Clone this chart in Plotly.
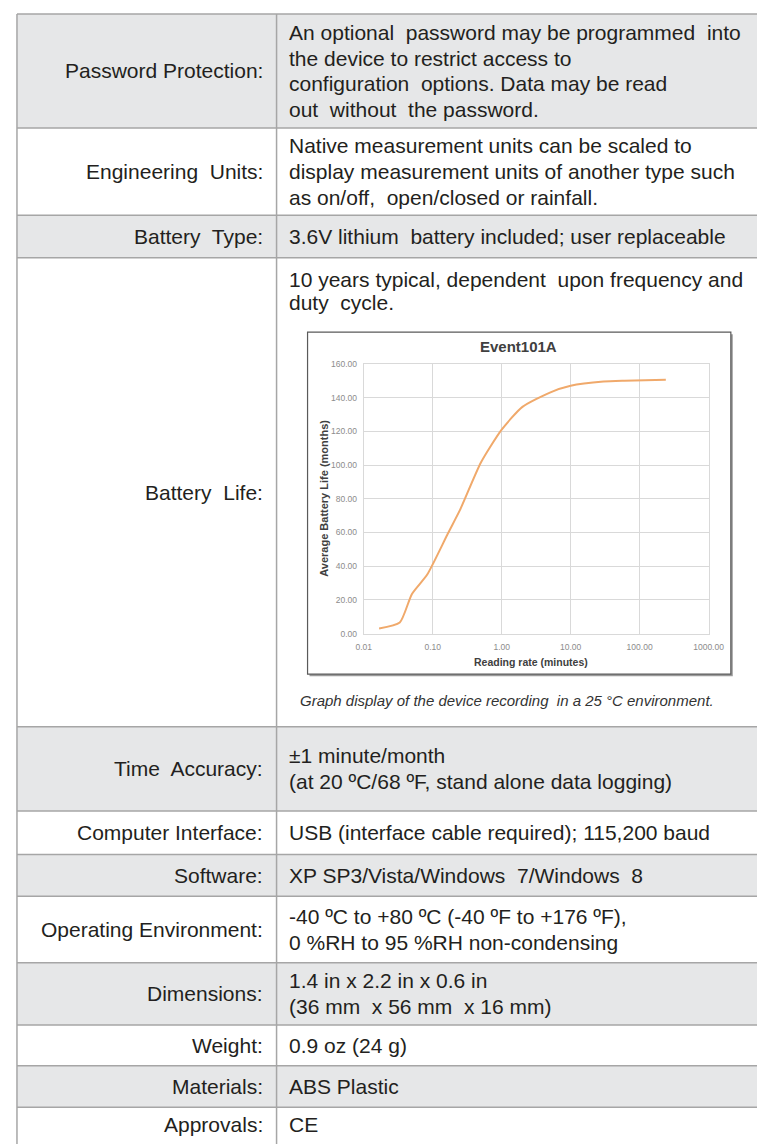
import plotly.graph_objects as go

# ---------------- data ----------------
row_labels = [
    "Password Protection:", "Engineering  Units:", "Battery  Type:", "Battery  Life:",
    "Time  Accuracy:", "Computer Interface:", "Software:", "Operating Environment:",
    "Dimensions:", "Weight:", "Materials:", "Approvals:",
]
row_contents = [
    ["An optional  password may be programmed  into", "the device to restrict access to",
     "configuration  options. Data may be read", "out  without  the password."],
    ["Native measurement units can be scaled to", "display measurement units of another type such",
     "as on/off,  open/closed or rainfall."],
    ["3.6V lithium  battery included; user replaceable"],
    ["10 years typical, dependent  upon frequency and", "duty  cycle."],
    ["±1 minute/month", "(at 20 ºC/68 ºF, stand alone data logging)"],
    ["USB (interface cable required); 115,200 baud"],
    ["XP SP3/Vista/Windows  7/Windows  8"],
    ["-40 ºC to +80 ºC (-40 ºF to +176 ºF),", "0 %RH to 95 %RH non-condensing"],
    ["1.4 in x 2.2 in x 0.6 in", "(36 mm  x 56 mm  x 16 mm)"],
    ["0.9 oz (24 g)"],
    ["ABS Plastic"],
    ["CE"],
]
caption = "Graph display of the device recording  in a 25 °C environment."

chart_title = "Event101A"
x_title = "Reading rate (minutes)"
y_title = "Average Battery Life (months)"
reading_rate_min = [0.0167, 0.0333, 0.05, 0.0833, 0.1667, 0.25, 0.5, 1, 2, 5, 10, 30, 60, 120, 240]
battery_life_months = [3.0, 6.5, 23.5, 35.0, 59.5, 73.5, 101.5, 121.0, 134.5, 143.0, 147.0, 149.5, 150.0, 150.3, 150.6]
x_tick_vals = [0.01, 0.1, 1, 10, 100, 1000]
x_tick_text = ["0.01", "0.10", "1.00", "10.00", "100.00", "1000.00"]
y_tick_vals = [0, 20, 40, 60, 80, 100, 120, 140, 160]
y_tick_text = ["0.00", "20.00", "40.00", "60.00", "80.00", "100.00", "120.00", "140.00", "160.00"]

# ---------------- layout geometry (screen pixels) ----------------
W, H = 765, 1144
OFF = 8  # page body margin added by the browser
row_edges = [9, 124, 212, 255, 728, 813, 857, 899, 966, 1029, 1070, 1112, 1160]
TABLE_L, TABLE_R, COL_X = 9, 780, 277
LABEL_X, CONTENT_X = 265, 288
LINE_H = 26
GRAY = "#e6e7e8"
BORDER = "#a6a6a6"
TXT = "#231f20"
FONT = "Liberation Sans"


def px(x):
    return (x - OFF) / W


def py(y):
    return 1 - (y - OFF) / H


def spaced(s):
    return s.replace("  ", "&nbsp; ")


shapes = []
annotations = []

# row backgrounds
for i in range(len(row_labels)):
    if i % 2 == 0:
        shapes.append(dict(type="rect", xref="paper", yref="paper",
                           x0=px(TABLE_L), x1=px(TABLE_R), y0=py(row_edges[i]), y1=py(row_edges[i + 1]),
                           fillcolor=GRAY, line=dict(width=0), layer="below"))

# chart frame (shadow + white box)
CH_L, CH_R, CH_T, CH_B = 309, 746, 330, 675
shapes.append(dict(type="rect", xref="paper", yref="paper",
                   x0=px(CH_L + 2), x1=px(CH_R + 2), y0=py(CH_T + 2), y1=py(CH_B + 2),
                   fillcolor="#9a9a9a", line=dict(width=0), layer="below"))
shapes.append(dict(type="rect", xref="paper", yref="paper",
                   x0=px(CH_L), x1=px(CH_R), y0=py(CH_T), y1=py(CH_B),
                   fillcolor="white", line=dict(color="#5a5a5a", width=1.2), layer="below"))

# table lines
for e in row_edges:
    shapes.append(dict(type="line", xref="paper", yref="paper",
                       x0=px(TABLE_L), x1=px(TABLE_R), y0=py(e), y1=py(e),
                       line=dict(color=BORDER, width=1.5), layer="below"))
for xv in (TABLE_L, COL_X):
    shapes.append(dict(type="line", xref="paper", yref="paper",
                       x0=px(xv), x1=px(xv), y0=py(row_edges[0]), y1=py(row_edges[-1]),
                       line=dict(color=BORDER, width=1.5), layer="below"))

# table text
for i, (lab, lines) in enumerate(zip(row_labels, row_contents)):
    top, bot = row_edges[i], row_edges[i + 1]
    cy = (top + bot) / 2 if i < len(row_labels) - 1 else 1129
    annotations.append(dict(xref="paper", yref="paper", x=px(LABEL_X), y=py(cy),
                            xanchor="right", yanchor="middle", showarrow=False,
                            text=spaced(lab), font=dict(family=FONT, size=21, color=TXT)))
    n = len(lines)
    if i == 3:
        first, step = top + 22, 23
    else:
        first, step = cy - (n - 1) * LINE_H / 2, LINE_H
    for k, ln in enumerate(lines):
        annotations.append(dict(xref="paper", yref="paper", x=px(CONTENT_X), y=py(first + k * step),
                                xanchor="left", yanchor="middle", showarrow=False, text=spaced(ln),
                                font=dict(family=FONT, size=21, color=TXT)))

# caption
annotations.append(dict(xref="paper", yref="paper", x=px(515), y=py(702), xanchor="center", yanchor="middle",
                        showarrow=False, text="<i>" + spaced(caption) + "</i>",
                        font=dict(family=FONT, size=15, color="#333333")))

# chart texts
annotations.append(dict(xref="paper", yref="paper", x=px(527), y=py(344), xanchor="center", yanchor="middle",
                        showarrow=False, text="<b>" + chart_title + "</b>",
                        font=dict(family=FONT, size=15, color="#404040")))
annotations.append(dict(xref="paper", yref="paper", x=px(540), y=py(663), xanchor="center", yanchor="middle",
                        showarrow=False, text="<b>" + x_title + "</b>",
                        font=dict(family=FONT, size=10.5, color="#404040")))
annotations.append(dict(xref="paper", yref="paper", x=px(326), y=py(498), xanchor="center", yanchor="middle",
                        showarrow=False, text="<b>" + y_title + "</b>", textangle=-90,
                        font=dict(family=FONT, size=11, color="#404040")))

# plot area
PL, PR, PT, PB = 367, 723, 362, 634

fig = go.Figure()
fig.add_trace(go.Scatter(x=reading_rate_min, y=battery_life_months, mode="lines",
                         line=dict(color="#f0a96b", width=2, shape="spline", smoothing=0.6),
                         showlegend=False, hoverinfo="x+y"))

fig.update_layout(
    width=W, height=H, margin=dict(l=0, r=0, t=0, b=0),
    paper_bgcolor="white", plot_bgcolor="rgba(0,0,0,0)",
    shapes=shapes, annotations=annotations, showlegend=False,
    xaxis=dict(type="log", range=[-2, 3], domain=[px(PL), px(PR)],
               tickvals=x_tick_vals, ticktext=x_tick_text,
               showgrid=True, gridcolor="#d9d9d9", gridwidth=1, zeroline=False,
               showline=True, linecolor="#d9d9d9", linewidth=1, mirror=True,
               ticks="outside", ticklen=5, tickcolor="rgba(0,0,0,0)",
               tickfont=dict(family=FONT, size=8.5, color="#8c8c8c"), fixedrange=True),
    yaxis=dict(range=[0, 160], domain=[py(PB), py(PT)],
               tickvals=y_tick_vals, ticktext=y_tick_text,
               showgrid=True, gridcolor="#d9d9d9", gridwidth=1, zeroline=False,
               showline=True, linecolor="#d9d9d9", linewidth=1, mirror=True,
               ticks="outside", ticklen=4, tickcolor="rgba(0,0,0,0)",
               tickfont=dict(family=FONT, size=8.5, color="#8c8c8c"), fixedrange=True),
)

fig.write_html("out.html")
